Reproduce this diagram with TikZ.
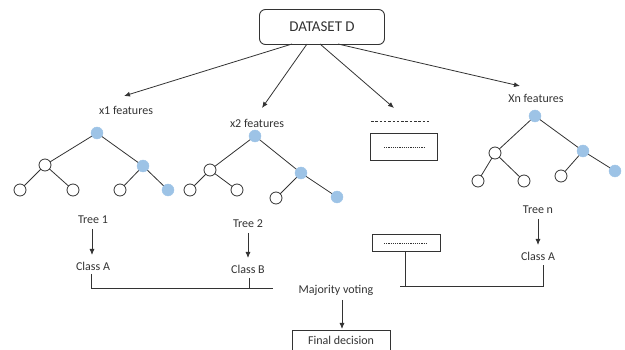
\documentclass[tikz,border=0pt]{standalone}
\usepackage{fontspec}
\setmainfont{Carlito}
\usetikzlibrary{arrows.meta}
\definecolor{leafblue}{HTML}{9DC3E6}
\definecolor{inkgray}{HTML}{333333}
\tikzset{
  lbl/.style={font=\fontsize{12}{14}\selectfont, text=inkgray, inner sep=1pt},
  plain/.style={circle, draw=inkgray, fill=white, line width=0.8pt, minimum size=12pt, inner sep=0pt},
  hit/.style={circle, draw=leafblue, fill=leafblue, minimum size=12pt, inner sep=0pt},
  edge/.style={draw=inkgray, line width=0.8pt},
  arr/.style={draw=inkgray, line width=0.8pt, -{Latex[length=6pt,width=5pt]}},
  link/.style={draw=inkgray, line width=0.8pt},
  box/.style={draw=inkgray, line width=0.9pt, fill=white}
}
\begin{document}
\begin{tikzpicture}[x=1pt,y=-1pt]
\useasboundingbox (0,0) rectangle (625,350);
\clip (0,0) rectangle (625,350);

% top dataset box
\node[box, rounded corners=6pt, minimum width=125pt, minimum height=35pt,
      font=\fontsize{15}{17}\selectfont, text=inkgray] (ds) at (322,27) {DATASET D};
\coordinate (s1) at (292,44);
\coordinate (s2) at (307,44);
\coordinate (s3) at (320,44);
\coordinate (s4) at (338,44);

% feature labels
\node[lbl] (f1) at (126,110) {x1 features};
\node[lbl] (f2) at (257,123) {x2 features};
\node[lbl] (fn) at (536,98) {Xn features};
\coordinate (d1) at (371,122);
\coordinate (d2) at (431,122);
\node[box, minimum width=67pt, minimum height=27pt] (mid) at (404,147) {};
\coordinate (m1) at (384,147);
\coordinate (m2) at (424,147);

\draw[arr] (s1) -- (124,96);
\draw[arr] (s2) -- (262,108);
\draw[arr] (s3) -- (394,108);
\draw[arr] (s4) -- (520,86);
\draw[inkgray, line width=1pt, dash pattern=on 2.5pt off 1.8pt] (d1) -- (d2);
\draw[inkgray, line width=0.4pt, dash pattern=on 1.2pt off 1pt] (m1) -- (m2);

% tree 1
\coordinate (a0) at (97,133);
\coordinate (a1) at (45,165);
\coordinate (a2) at (143,166);
\coordinate (a3) at (20,190);
\coordinate (a4) at (73,190);
\coordinate (a5) at (120,190);
\coordinate (a6) at (168,190);
\draw[edge] (a3) -- (a1) -- (a4) (a1) -- (a0) -- (a2) -- (a5) (a2) -- (a6);
\node[hit] (t1r) at (a0) {};
\node[plain] (t1a) at (a1) {};
\node[hit] (t1b) at (a2) {};
\node[plain] (t1c) at (a3) {};
\node[plain] (t1d) at (a4) {};
\node[plain] (t1e) at (a5) {};
\node[hit] (t1f) at (a6) {};

% tree 2
\coordinate (b0) at (255,136);
\coordinate (b1) at (210,170);
\coordinate (b2) at (301,173);
\coordinate (b3) at (190,190);
\coordinate (b4) at (237,190);
\coordinate (b5) at (276,198);
\coordinate (b6) at (337,197);
\draw[edge] (b3) -- (b1) -- (b4) (b1) -- (b0) -- (b2) -- (b5) (b2) -- (b6);
\node[hit] (t2r) at (b0) {};
\node[plain] (t2a) at (b1) {};
\node[hit] (t2b) at (b2) {};
\node[plain] (t2c) at (b3) {};
\node[plain] (t2d) at (b4) {};
\node[plain] (t2e) at (b5) {};
\node[hit] (t2f) at (b6) {};

% tree n
\coordinate (c0) at (535,116);
\coordinate (c1) at (495,153);
\coordinate (c2) at (583,151);
\coordinate (c3) at (478,181);
\coordinate (c4) at (524,181);
\coordinate (c5) at (561,176);
\coordinate (c6) at (615,171);
\draw[edge] (c3) -- (c1) -- (c4) (c1) -- (c0) -- (c2) -- (c5) (c2) -- (c6);
\node[hit] (tnr) at (c0) {};
\node[plain] (tna) at (c1) {};
\node[hit] (tnb) at (c2) {};
\node[plain] (tnc) at (c3) {};
\node[plain] (tnd) at (c4) {};
\node[plain] (tne) at (c5) {};
\node[hit] (tnf) at (c6) {};

% tree names and predicted classes
\node[lbl] (n1) at (93,220) {Tree 1};
\node[lbl] (k1) at (93,266) {Class A};
\node[lbl] (n2) at (248,224) {Tree 2};
\node[lbl] (k2) at (248,269) {Class B};
\node[lbl] (nn) at (538,210) {Tree n};
\node[lbl] (kn) at (538,256) {Class A};
\draw[arr] (92,229) -- (92,255);
\draw[arr] (248,233) -- (248,258);
\draw[arr] (538,219) -- (538,245);

% lower placeholder box
\node[box, minimum width=68pt, minimum height=17pt] (low) at (406,243) {};
\coordinate (l1) at (384,243);
\coordinate (l2) at (428,243);
\draw[inkgray, line width=0.4pt, dash pattern=on 1.2pt off 1pt] (l1) -- (l2);

% vote collection lines
\coordinate (j1) at (91,288);
\coordinate (j2) at (273,288);
\coordinate (j3) at (400,286);
\coordinate (j4) at (543,286);
\draw[link] (91,274) -- (j1) -- (j2);
\draw[link] (249,278) -- (249,288);
\draw[link] (405,252) -- (405,286);
\draw[link] (j3) -- (j4) -- (543,265);

% majority vote and decision
\node[lbl] (mv) at (336,290) {Majority voting};
\node[box, minimum width=98pt, minimum height=26pt, anchor=north] (fd) at (341,330) {};
\node[lbl] (fdt) at (341,340) {Final decision};
\draw[arr] (342,300) -- (342,329);
\end{tikzpicture}
\end{document}
